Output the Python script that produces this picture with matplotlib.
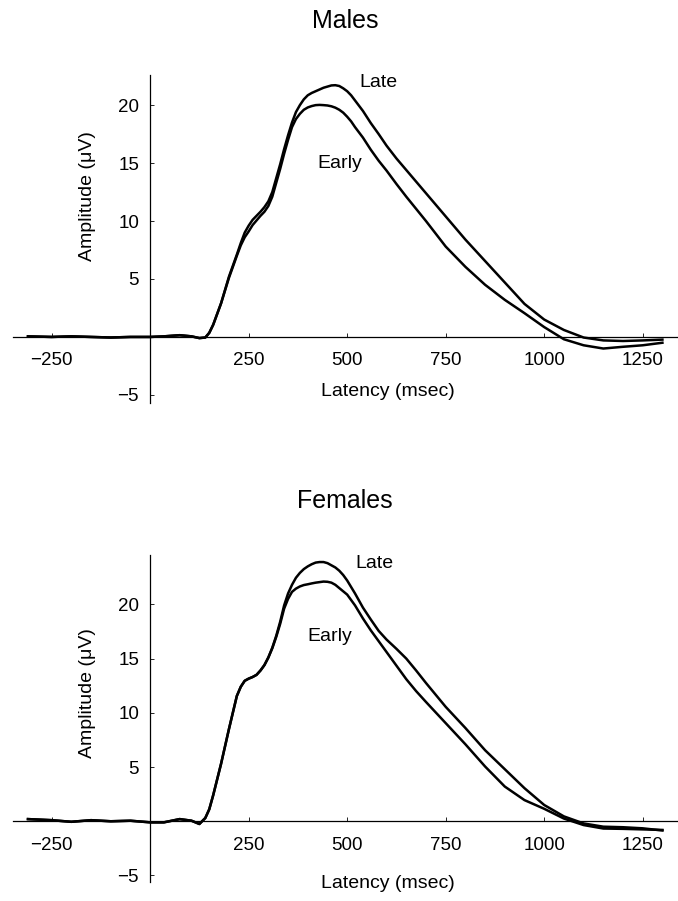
import numpy as np
import matplotlib
matplotlib.use('Agg')
from matplotlib import pyplot as plt

plt.rcParams['font.family'] = ['Liberation Sans', 'DejaVu Sans']

# latency sample points (msec)
latency = [-310, -250, -200, -150, -100, -50, 0, 35, 75, 105, 125, 140,
           150, 160, 180, 200,
           220, 230, 240, 250, 260, 270, 280, 290, 300, 310, 320, 330, 340, 350, 360,
           370, 380, 390, 400, 410, 420, 430, 440, 450, 460, 470, 480, 490, 500, 510,
           520, 530, 540,
           560, 580, 600, 625, 650, 675, 700,
           750, 800, 850, 900, 950, 1000, 1050, 1100, 1150, 1200, 1250, 1300]

males_late = [0.05, 0.0, 0.05, 0.0, -0.05, 0.0, 0.0, 0.05, 0.15, 0.05, -0.1, -0.05,
              0.35, 1.05, 2.9, 5.2,
              7.1, 8.1, 9.0, 9.6, 10.1, 10.45, 10.8, 11.2, 11.7, 12.5, 13.7, 14.9, 16.2, 17.4, 18.5,
              19.4, 20.0, 20.5, 20.85, 21.05, 21.2, 21.35, 21.5, 21.6, 21.7, 21.72, 21.65, 21.45, 21.2, 20.85,
              20.4, 19.95, 19.5,
              18.45, 17.5, 16.5, 15.4, 14.4, 13.4, 12.4,
              10.4, 8.4, 6.55, 4.7, 2.85, 1.5, 0.6, -0.05, -0.3, -0.35, -0.3, -0.23]
males_early = [0.05, 0.0, 0.05, 0.0, -0.05, 0.0, 0.0, 0.05, 0.15, 0.05, -0.1, -0.05,
               0.35, 1.05, 2.9, 5.1,
               7.0, 7.9, 8.6, 9.1, 9.65, 10.05, 10.45, 10.8, 11.3, 12.1, 13.3, 14.5, 15.8, 17.0, 18.1,
               18.8, 19.25, 19.6, 19.8, 19.92, 20.0, 20.02, 20.0, 19.97, 19.9, 19.78, 19.6, 19.35, 19.0, 18.6,
               18.1, 17.65, 17.2,
               16.15, 15.2, 14.35, 13.2, 12.1, 11.05, 10.0,
               7.8, 6.05, 4.5, 3.2, 2.05, 0.85, -0.2, -0.72, -1.0, -0.85, -0.72, -0.5]

females_late = [0.2, 0.1, -0.05, 0.1, 0.0, 0.05, -0.1, -0.1, 0.2, 0.05, -0.25, 0.3,
                1.1, 2.4, 5.3, 8.5,
                11.55, 12.4, 12.95, 13.15, 13.3, 13.5, 13.9, 14.4, 15.1, 16.0, 17.1, 18.4, 19.9, 21.0, 21.8,
                22.45, 22.9, 23.25, 23.5, 23.7, 23.85, 23.9, 23.9, 23.8, 23.6, 23.4, 23.1, 22.7, 22.2, 21.6,
                21.0, 20.35, 19.7,
                18.6, 17.55, 16.75, 15.9, 15.0, 13.9, 12.75,
                10.55, 8.6, 6.55, 4.8, 3.05, 1.5, 0.45, -0.2, -0.5, -0.55, -0.65, -0.85]
females_early = [0.2, 0.1, -0.05, 0.1, 0.0, 0.05, -0.1, -0.1, 0.2, 0.05, -0.25, 0.3,
                 1.1, 2.4, 5.3, 8.5,
                 11.55, 12.4, 12.95, 13.15, 13.3, 13.5, 13.9, 14.4, 15.1, 15.95, 17.0, 18.2, 19.6, 20.5, 21.15,
                 21.45, 21.65, 21.78, 21.85, 21.93, 22.0, 22.05, 22.1, 22.08, 22.0, 21.8, 21.5, 21.2, 20.9, 20.4,
                 19.9, 19.3, 18.7,
                 17.6, 16.6, 15.6, 14.35, 13.1, 12.0, 11.0,
                 9.05, 7.1, 5.05, 3.2, 1.95, 1.15, 0.25, -0.35, -0.67, -0.7, -0.75, -0.8]

xticks = [-250, 250, 500, 750, 1000, 1250]
xticklabels = ['\u2212250', '250', '500', '750', '1000', '1250']
yticks = [-5, 5, 10, 15, 20]
yticklabels = ['\u22125', '5', '10', '15', '20']

W, H = 678, 901
panels = [
    # title, late, early, top px, bottom px, ylim, Late pos, Early pos, ylabel y, xlabel px
    ('Males', males_late, males_early, 75, 403, (-5.7, 22.6), (579, 21.95), (480, 15.0), 0.631, 391),
    ('Females', females_late, females_early, 555, 882, (-5.6, 24.55), (569, 23.8), (457, 17.0), 0.578, 884),
]

fig = plt.figure(figsize=(W / 100, H / 100), dpi=100)

for title, late, early, top_px, bot_px, ylim, late_pos, early_pos, ylab_y, xlab_px in panels:
    ax = fig.add_axes([13 / W, 1 - bot_px / H, 664 / W, (bot_px - top_px) / H])
    ax.plot(latency, late, color='black', lw=1.8, solid_joinstyle='round')
    ax.plot(latency, early, color='black', lw=1.8, solid_joinstyle='round')
    ax.set_xlim(-348, 1337)
    ax.set_ylim(*ylim)

    ax.spines['left'].set_position(('data', 0))
    ax.spines['bottom'].set_position(('data', 0))
    ax.spines['top'].set_visible(False)
    ax.spines['right'].set_visible(False)
    ax.spines['left'].set_linewidth(0.9)
    ax.spines['bottom'].set_linewidth(0.9)

    ax.set_xticks(xticks)
    ax.set_yticks(yticks)
    ax.set_xticklabels(xticklabels)
    ax.set_yticklabels(yticklabels)
    ax.tick_params(axis='x', direction='in', length=3, width=0.6, pad=11, labelsize=13.5)
    ax.tick_params(axis='y', direction='in', length=3, width=0.6, pad=8, labelsize=13.5)

    ax.set_xlabel('Latency (msec)', fontsize=14)
    ax.xaxis.set_label_coords(0.565, (bot_px - xlab_px) / (bot_px - top_px))
    ax.xaxis.label.set_va('center')
    ax.set_ylabel('Amplitude (\u03bcV)', fontsize=14)
    ax.yaxis.set_label_coords((88 - 13) / 664, ylab_y)
    ax.yaxis.label.set_va('center')

    ax.text(late_pos[0], late_pos[1], 'Late', fontsize=14, ha='center', va='center')
    ax.text(early_pos[0], early_pos[1], 'Early', fontsize=14, ha='center', va='center')

    fig.text(345 / W, 1 - (top_px - 54) / H, title, fontsize=18, ha='center', va='center')

fig.savefig('out.png', dpi=100)
